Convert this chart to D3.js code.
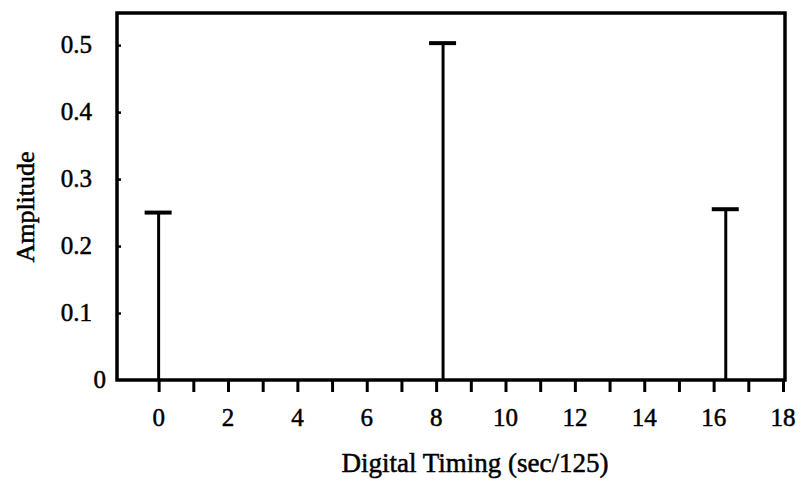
<!DOCTYPE html>
<html>
<head>
<meta charset="utf-8">
<title>Amplitude vs Digital Timing</title>
<script src="https://d3js.org/d3.v7.min.js"></script>
<style>
    body { margin: 0; background: #fff; }
    text { font-family: "Liberation Serif", "Times New Roman", serif; fill: #000; stroke: #000; stroke-width: 0.5px; }
</style>
</head>
<body>
<svg id="chart" width="803" height="481"></svg>
<script>
    // impulse positions (sec/125) and heights
    const timing = [0, 8.2, 16.35];
    const amplitude = [0.25, 0.503, 0.255];

    const xTicks = d3.range(0, 19);          // minor ticks every unit
    const xLabels = [0, 2, 4, 6, 8, 10, 12, 14, 16, 18];
    const yTicks = [0, 0.1, 0.2, 0.3, 0.4, 0.5];

    const svg = d3.select("#chart");
    const box = { left: 117, right: 785, top: 13, bottom: 380 };

    const x = d3.scaleLinear().domain([-1.2, 18]).range([box.left, 783]);
    const y = d3.scaleLinear().domain([0, 0.548]).range([box.bottom, box.top]);

    // frame
    svg.append("rect")
        .attr("x", box.left).attr("y", box.top)
        .attr("width", box.right - box.left).attr("height", box.bottom - box.top)
        .attr("fill", "none").attr("stroke", "#000").attr("stroke-width", 3.5);

    // x axis: ticks down, labels every 2
    const xAxis = d3.axisBottom(x).tickValues(xTicks).tickSize(12).tickFormat("");
    const gx = svg.append("g").attr("transform", `translate(0,${box.bottom})`).call(xAxis);
    gx.select(".domain").remove();
    gx.selectAll(".tick line").attr("stroke", "#000").attr("stroke-width", 3);

    svg.append("g").selectAll("text")
        .data(xLabels).join("text")
        .attr("x", d => x(d))
        .attr("y", 426)
        .attr("text-anchor", "middle")
        .style("font-size", "25px")
        .text(d => d);

    // y axis: small inward ticks
    const yAxis = d3.axisRight(y).tickValues(yTicks.slice(1)).tickSize(4).tickFormat("");
    const gy = svg.append("g").attr("transform", `translate(${box.left},0)`).call(yAxis);
    gy.select(".domain").remove();
    gy.selectAll(".tick line").attr("stroke", "#000").attr("stroke-width", 2.5);

    svg.append("g").selectAll("text")
        .data(yTicks).join("text")
        .attr("x", d => d === 0 ? 106 : 92)
        .attr("y", d => y(d) + 8)
        .attr("text-anchor", "end")
        .style("font-size", "25px")
        .text(d => d === 0 ? "0" : d3.format(".1f")(d));

    // impulses with caps
    const spikes = svg.append("g");
    timing.forEach((t, i) => {
        spikes.append("line")
            .attr("x1", x(t)).attr("x2", x(t))
            .attr("y1", y(0)).attr("y2", y(amplitude[i]))
            .attr("stroke", "#000").attr("stroke-width", 3);
        spikes.append("line")
            .attr("x1", x(t) - 14).attr("x2", x(t) + 13)
            .attr("y1", y(amplitude[i])).attr("y2", y(amplitude[i]))
            .attr("stroke", "#000").attr("stroke-width", 4);
    });

    // axis titles
    svg.append("text")
        .attr("x", 475).attr("y", 472)
        .attr("text-anchor", "middle")
        .style("font-size", "27px")
        .text("Digital Timing (sec/125)");

    svg.append("text")
        .attr("transform", "translate(34,207) rotate(-90)")
        .attr("text-anchor", "middle")
        .style("font-size", "26px")
        .text("Amplitude");
</script>
</body>
</html>
